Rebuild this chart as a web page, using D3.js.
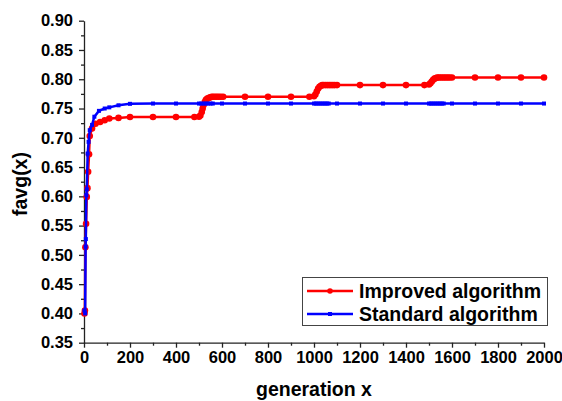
<!DOCTYPE html>
<html>
<head>
<meta charset="utf-8">
<script src="https://cdn.jsdelivr.net/npm/d3@7"></script>
<style>
  body { margin: 0; background: #fff; }
  text { font-family: "Liberation Sans", Arial, sans-serif; font-weight: bold; }
</style>
</head>
<body>
<svg id="chart" width="562" height="401"></svg>
<script>
// generation / favg(x) samples
var improved_x = [2,4,6,9,12,15,18,22,25,35,50,70,90,110,150,200,300,400,480,500,506,512,516,520,525,530,536,542,548,555,562,570,578,586,595,605,700,800,900,980,1000,1006,1012,1018,1024,1030,1036,1042,1050,1058,1066,1074,1082,1090,1100,1200,1300,1400,1480,1500,1506,1512,1518,1524,1530,1536,1542,1550,1558,1566,1574,1582,1590,1600,1700,1800,1900,2000];
var improved_y = [0.400,0.405,0.513,0.553,0.599,0.614,0.642,0.672,0.703,0.716,0.724,0.727,0.730,0.733,0.734,0.7355,0.7355,0.7355,0.7355,0.736,0.738,0.744,0.750,0.756,0.761,0.765,0.767,0.768,0.769,0.770,0.770,0.770,0.770,0.770,0.770,0.770,0.770,0.770,0.770,0.770,0.771,0.774,0.779,0.784,0.787,0.789,0.790,0.790,0.790,0.790,0.790,0.790,0.790,0.790,0.790,0.790,0.790,0.790,0.790,0.791,0.793,0.796,0.799,0.801,0.802,0.803,0.803,0.803,0.803,0.803,0.803,0.803,0.803,0.803,0.803,0.803,0.803,0.803];

var standard_x = [2,5,7,8,10,12,16,20,25,35,45,65,90,110,150,200,300,400,500,510,520,530,540,550,560,600,700,800,900,1000,1008,1016,1024,1032,1040,1048,1056,1064,1100,1200,1300,1400,1500,1508,1516,1524,1532,1540,1548,1556,1564,1600,1700,1800,1900,2000];
var standard_y = [0.405,0.400,0.514,0.527,0.602,0.612,0.673,0.693,0.713,0.722,0.736,0.746,0.750,0.752,0.7555,0.758,0.7585,0.7585,0.7585,0.7585,0.7585,0.7585,0.7585,0.7585,0.7585,0.7585,0.7585,0.7585,0.7585,0.7585,0.7585,0.7585,0.7585,0.7585,0.7585,0.7585,0.7585,0.7585,0.7585,0.7585,0.7585,0.7585,0.7585,0.7585,0.7585,0.7585,0.7585,0.7585,0.7585,0.7585,0.7585,0.7585,0.7585,0.7585,0.7585,0.7585];

var x_ticks = [0,200,400,600,800,1000,1200,1400,1600,1800,2000];
var y_ticks = [0.35,0.40,0.45,0.50,0.55,0.60,0.65,0.70,0.75,0.80,0.85,0.90];
var series_names = ["Improved algorithm", "Standard algorithm"];
var series_colors = ["#ff0000", "#0000ff"];

var svg = d3.select('#chart');

var x = d3.scaleLinear().domain([0, 2000]).range([84, 544]);
var y = d3.scaleLinear().domain([0.35, 0.90]).range([342.7, 20.7]);

// minor ticks
var axis_g = svg.append('g').attr('class', 'axes');
axis_g.append('g')
    .attr('transform', 'translate(0,' + y(0.35) + ')')
    .call(d3.axisBottom(x).tickValues(d3.range(100, 2000, 200)).tickSize(3).tickFormat(''))
    .call(function(g){ g.select('.domain').remove(); });
axis_g.append('g')
    .attr('transform', 'translate(' + x(0) + ',0)')
    .call(d3.axisLeft(y).tickValues(d3.range(0.375, 0.9, 0.05)).tickSize(3).tickFormat(''))
    .call(function(g){ g.select('.domain').remove(); });

// major axes
var x_axis = axis_g.append('g')
    .attr('transform', 'translate(0,' + y(0.35) + ')')
    .call(d3.axisBottom(x).tickValues(x_ticks).tickSize(5).tickSizeOuter(0).tickPadding(4).tickFormat(d3.format('d')));
var y_axis = axis_g.append('g')
    .attr('transform', 'translate(' + x(0) + ',0)')
    .call(d3.axisLeft(y).tickValues(y_ticks).tickSize(5).tickSizeOuter(0).tickPadding(6).tickFormat(d3.format('.2f')));

axis_g.selectAll('line, path').attr('stroke', '#222').attr('stroke-width', 1.3);
axis_g.selectAll('text').attr('font-size', '16.5px').attr('fill', '#000')
    .attr('font-family', '"Liberation Sans", Arial, sans-serif').attr('font-weight', 'bold');

// axis titles
svg.append('text')
    .attr('x', 314).attr('y', 396)
    .attr('text-anchor', 'middle')
    .attr('font-size', '19.5px')
    .text('generation x');
svg.append('text')
    .attr('transform', 'translate(27,' + 184 + ') rotate(-90)')
    .attr('text-anchor', 'middle')
    .attr('font-size', '19.5px')
    .text('favg(x)');

var line = d3.line().x(function(d){ return x(d[0]); }).y(function(d){ return y(d[1]); });

var improved = improved_x.map(function(v, i){ return [v, improved_y[i]]; });
var standard = standard_x.map(function(v, i){ return [v, standard_y[i]]; });

var plot = svg.append('g').attr('class', 'plot');

// red series
plot.append('path')
    .datum(improved)
    .attr('d', line)
    .attr('fill', 'none')
    .attr('stroke', series_colors[0])
    .attr('stroke-width', 2.5);
plot.append('g')
    .selectAll('circle')
    .data(improved)
    .enter()
    .append('circle')
    .attr('cx', function(d){ return x(d[0]); })
    .attr('cy', function(d){ return y(d[1]); })
    .attr('r', 3.3)
    .attr('fill', series_colors[0]);

// blue series
plot.append('path')
    .datum(standard)
    .attr('d', line)
    .attr('fill', 'none')
    .attr('stroke', series_colors[1])
    .attr('stroke-width', 2.5);
plot.append('g')
    .selectAll('rect')
    .data(standard)
    .enter()
    .append('rect')
    .attr('x', function(d){ return x(d[0]) - 2; })
    .attr('y', function(d){ return y(d[1]) - 2; })
    .attr('width', 4)
    .attr('height', 4)
    .attr('fill', series_colors[1]);

// legend
var legend = svg.append('g').attr('class', 'legend');
legend.append('rect')
    .attr('x', 302.5).attr('y', 277.5)
    .attr('width', 245).attr('height', 48)
    .attr('fill', '#fff')
    .attr('stroke', '#444')
    .attr('stroke-width', 1);

var items = legend.selectAll('g.item')
    .data(series_names)
    .enter()
    .append('g')
    .attr('class', 'item')
    .attr('transform', function(d, i){ return 'translate(0,' + (291 + i * 23) + ')'; });
items.append('line')
    .attr('x1', 307).attr('x2', 353)
    .attr('y1', 0).attr('y2', 0)
    .attr('stroke', function(d, i){ return series_colors[i]; })
    .attr('stroke-width', 2.5);
items.each(function(d, i){
    var g = d3.select(this);
    if (i == 0) {
        g.append('circle').attr('cx', 330).attr('cy', 0).attr('r', 2.8).attr('fill', series_colors[0]);
    } else {
        g.append('rect').attr('x', 328).attr('y', -2).attr('width', 4).attr('height', 4).attr('fill', series_colors[1]);
    }
});
items.append('text')
    .attr('x', 359).attr('y', 7)
    .attr('font-size', '19.5px')
    .text(function(d){ return d; });
</script>
</body>
</html>
